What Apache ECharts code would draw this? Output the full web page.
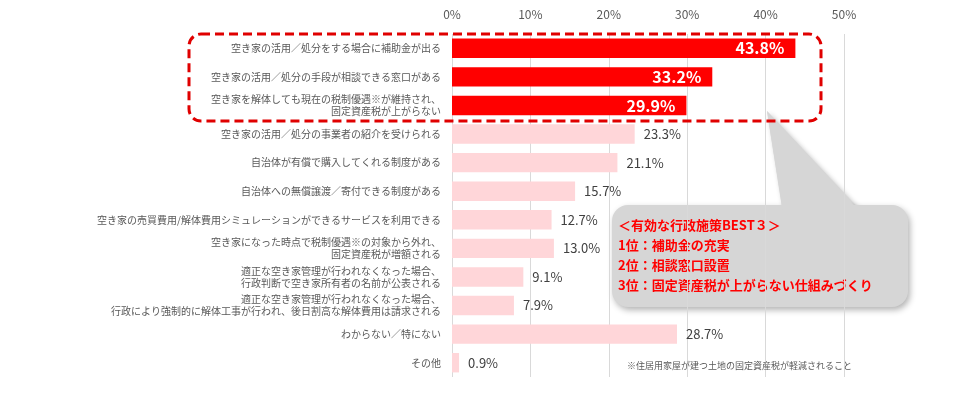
<!DOCTYPE html>
<html><head><meta charset="utf-8">
<script src="https://cdn.jsdelivr.net/npm/echarts@6/dist/echarts.min.js"></script>
<style>html,body{margin:0;padding:0;background:#fff}#c{width:960px;height:395px}</style>
</head><body><div id="c"></div>
<script>
const categories = [
  "空き家の活用／処分をする場合に補助金が出る",
  "空き家の活用／処分の手段が相談できる窓口がある",
  "空き家を解体しても現在の税制優遇※が維持され、\n固定資産税が上がらない",
  "空き家の活用／処分の事業者の紹介を受けられる",
  "自治体が有償で購入してくれる制度がある",
  "自治体への無償譲渡／寄付できる制度がある",
  "空き家の売買費用/解体費用シミュレーションができるサービスを利用できる",
  "空き家になった時点で税制優遇※の対象から外れ、\n固定資産税が増額される",
  "適正な空き家管理が行われなくなった場合、\n行政判断で空き家所有者の名前が公表される",
  "適正な空き家管理が行われなくなった場合、\n行政により強制的に解体工事が行われ、後日割高な解体費用は請求される",
  "わからない／特にない",
  "その他"
];
const values = [43.8, 33.2, 29.9, 23.3, 21.1, 15.7, 12.7, 13.0, 9.1, 7.9, 28.7, 0.9];
const topCount = 3;
const tickLabels = ["0%", "10%", "20%", "30%", "40%", "50%"];
const calloutLines = [
  "＜有効な行政施策BEST３＞",
  "1位：補助金の充実",
  "2位：相談窓口設置",
  "3位：固定資産税が上がらない仕組みづくり"
];
const footnote = "※住居用家屋が建つ土地の固定資産税が軽減されること";

const chart = echarts.init(document.getElementById('c'), null, {renderer: 'canvas'});
const data = values.map((v, i) => {
  const top = i < topCount;
  return {
    value: v,
    itemStyle: {color: top ? '#ff0000' : '#ffd6d9'},
    label: top ? {
      position: 'insideRight', distance: 11, color: '#ffffff',
      fontSize: 16, fontWeight: 'bold'
    } : {
      position: 'right', distance: 9, color: '#404040', fontSize: 13
    }
  };
});
chart.setOption({
  animation: false,
  backgroundColor: '#ffffff',
  textStyle: {fontFamily: '"Noto Sans CJK JP", "Noto Sans", sans-serif'},
  grid: {left: 452, right: 116, top: 34, bottom: 18},
  xAxis: {
    type: 'value', position: 'top', min: 0, max: 50, interval: 10,
    axisLine: {show: false}, axisTick: {show: false},
    axisLabel: {margin: 14, color: '#595959', fontSize: 12,
      formatter: (v) => tickLabels[Math.round(v / 10)]},
    splitLine: {lineStyle: {color: '#d9d9d9', width: 1}}
  },
  yAxis: {
    type: 'category', inverse: true, data: categories,
    axisLine: {show: false}, axisTick: {show: false},
    axisLabel: {margin: 11, color: '#595959', fontSize: 10, lineHeight: 12, align: 'right'}
  },
  series: [{
    type: 'bar', data: data, barWidth: '68%',
    label: {show: true, formatter: (p) => p.value.toFixed(1) + '%'}
  }],
  graphic: [
    {
      type: 'group', z: 50, children: [
        {type: 'polygon', shape: {points: [[767, 111], [783, 212], [862, 212]]},
         style: {fill: '#d6d6d6', shadowBlur: 5, shadowOffsetX: 2, shadowOffsetY: 2, shadowColor: 'rgba(0,0,0,0.25)'}},
        {type: 'rect', shape: {x: 612, y: 205, width: 296, height: 102, r: 16},
         style: {fill: '#d6d6d6', shadowBlur: 6, shadowOffsetX: 2, shadowOffsetY: 3, shadowColor: 'rgba(0,0,0,0.3)'}},
        {type: 'polygon', shape: {points: [[767, 111], [783, 214], [862, 214]]},
         style: {fill: '#d6d6d6'}},
        {type: 'text', x: 618, y: 215,
         style: {text: calloutLines.join('\n'), fill: '#ff0000', fontSize: 13, fontWeight: 'bold',
           lineHeight: 20, fontFamily: '"Noto Sans CJK JP", sans-serif', textVerticalAlign: 'top'}}
      ]
    },
    {
      type: 'rect', z: 60,
      shape: {x: 189, y: 34, width: 632, height: 87, r: 12},
      style: {fill: 'none', stroke: '#e00000', lineWidth: 3, lineDash: [9, 5]}
    },
    {
      type: 'text', z: 60, x: 627, y: 361,
      style: {text: footnote, fill: '#595959', fontSize: 9, fontFamily: '"Noto Sans CJK JP", sans-serif'}
    }
  ]
});
</script></body></html>
